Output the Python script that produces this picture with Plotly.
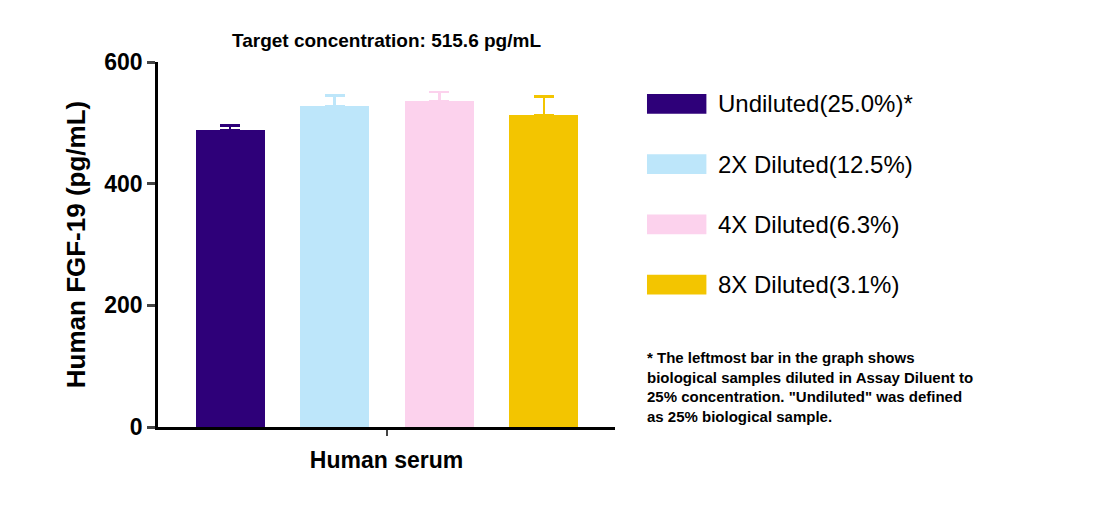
import plotly.graph_objects as go

categories = ["Undiluted(25.0%)*", "2X Diluted(12.5%)", "4X Diluted(6.3%)", "8X Diluted(3.1%)"]
values = [488, 527, 536, 513]
errors = [8, 18, 15, 30]
colors = ["#2e0079", "#bde6fa", "#fcd2ed", "#f3c500"]

F = "Liberation Sans, Arial, sans-serif"
fig = go.Figure()
for i, (c, v, e, col) in enumerate(zip(categories, values, errors, colors)):
    fig.add_trace(go.Bar(x=[i], y=[v], width=0.66, marker=dict(color=col, line=dict(width=0)),
                         error_y=dict(type="data", array=[e], arrayminus=[0], symmetric=False,
                                      color=col, thickness=2.5, width=10), name=c, showlegend=False))

ly = [0.885, 0.72, 0.555, 0.39]
for c, col, yy in zip(categories, colors, ly):
    fig.add_shape(type="rect", xref="paper", yref="paper", x0=1.07, x1=1.2, y0=yy-0.027, y1=yy+0.027,
                  fillcolor=col, line=dict(width=0))
    fig.add_annotation(xref="paper", yref="paper", x=1.22, y=yy, yanchor="middle", text=c, showarrow=False,
                       xanchor="left", font=dict(family=F, size=24, color="black"))

fig.add_annotation(xref="paper", yref="paper", x=1.065, y=0.22, xanchor="left", yanchor="top", align="left",
                   showarrow=False, font=dict(family=F, size=15, color="black"),
                   text="<b>* The leftmost bar in the graph shows<br>biological samples diluted in Assay Diluent to<br>25% concentration. \"Undiluted\" was defined<br>as 25% biological sample.</b>")
fig.add_annotation(xref="paper", yref="paper", x=0.5, y=1.025, yanchor="bottom", showarrow=False,
                   text="<b>Target concentration: 515.6 pg/mL</b>", font=dict(family=F, size=19, color="black"))

fig.update_layout(
    width=1102, height=507, paper_bgcolor="white", plot_bgcolor="white",
    margin=dict(l=150, r=495, t=54, b=88), bargap=0,
    font=dict(family=F, color="black"),
    xaxis=dict(range=[-0.69, 3.68], tickvals=[1.5], ticktext=[""], ticks="outside", ticklen=6, tickwidth=2,
               showline=True, linewidth=2.5, linecolor="black", showgrid=False, zeroline=False,
               title=dict(text="<b>Human serum</b>", font=dict(size=23, family=F), standoff=15)),
    yaxis=dict(range=[0, 600], tickvals=[0, 200, 400, 600], ticks="outside", ticklen=8, tickwidth=2.5,
               showline=True, linewidth=2.5, linecolor="black", showgrid=False, zeroline=False,
               tickfont=dict(size=23, family=F, weight="bold"),
               title=dict(text="<b>Human FGF-19 (pg/mL)</b>", font=dict(size=26, family=F), standoff=12)),
)
fig.write_html("out.html")
